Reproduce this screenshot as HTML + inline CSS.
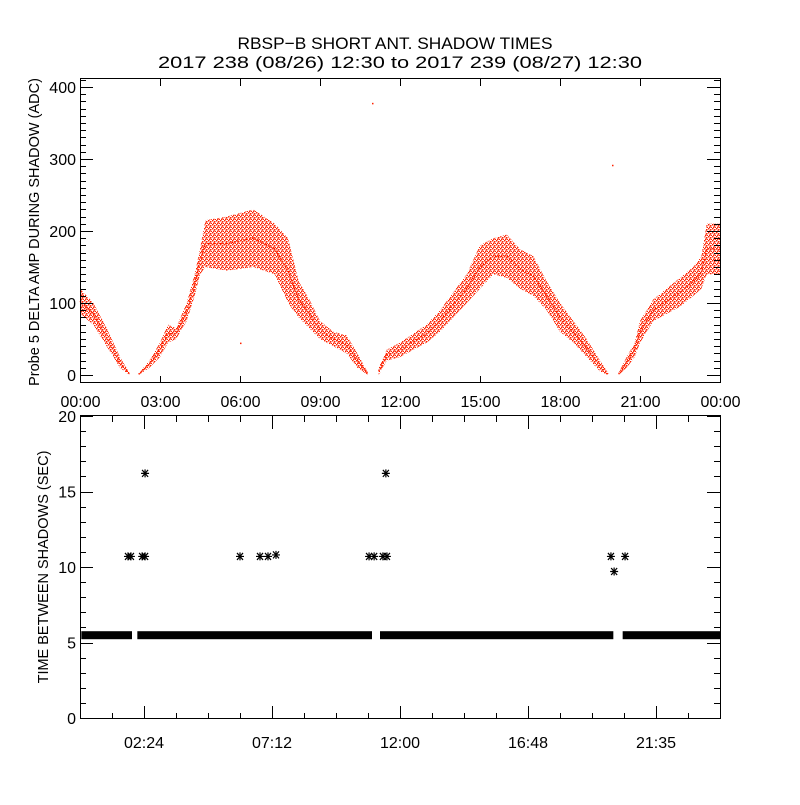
<!DOCTYPE html>
<html><head><meta charset="utf-8"><style>
html,body{margin:0;padding:0;background:#fff;}
svg text{font-family:"Liberation Sans",sans-serif;fill:#000;}
</style></head><body>
<svg id="chart" width="800" height="800" viewBox="0 0 800 800" xmlns="http://www.w3.org/2000/svg">
<defs>
<pattern id="dots" width="4" height="4" patternUnits="userSpaceOnUse">
<rect x="0" y="0" width="1.5" height="1.5" fill="#ff2200"/>
<rect x="2" y="1" width="1.5" height="1.5" fill="#ff2200"/>
<rect x="1" y="2.5" width="1.5" height="1.5" fill="#ff2200"/>
<rect x="3" y="3" width="1" height="1" fill="#ff2200"/>
</pattern>
</defs>
<rect width="800" height="800" fill="#fff"/>
<text x="395" y="49" font-size="17" text-anchor="middle" textLength="315" lengthAdjust="spacingAndGlyphs">RBSP−B SHORT ANT. SHADOW TIMES</text>
<text x="400" y="68" font-size="17" text-anchor="middle" textLength="484" lengthAdjust="spacingAndGlyphs">2017 238 (08/26) 12:30 to 2017 239 (08/27) 12:30</text>
<g id="topPanel"></g>
<g id="botPanel"></g>
</svg>
<script>
// ---- top panel data (hours, lower/upper envelope of ADC values) ----
const seg1Hours=[0,0.5,1.0,1.5,1.85];
const seg1Lo=[85,70,40,10,0];
const seg1Hi=[120,100,65,25,3];
const seg2Hours=[2.2,2.6,3.0,3.3,3.6,4.0,4.3,4.5,4.7,5.5,6.5,7.3,7.8,8.2,8.6,9.0,9.5,10.0,10.4,10.8];
const seg2Lo=[0,10,25,45,50,75,110,140,150,145,150,140,100,80,65,50,40,30,10,0];
const seg2Hi=[2,20,45,70,65,100,140,175,215,220,230,210,190,130,105,75,60,55,30,3];
const seg3Hours=[11.2,11.5,12.0,13.0,13.5,14.0,14.5,15.0,15.5,16.0,16.5,17.0,17.5,18.0,18.5,19.0,19.5,19.8];
const seg3Lo=[0,20,25,45,60,80,100,120,140,135,120,110,90,60,45,25,5,0];
const seg3Hi=[10,35,45,70,90,115,140,180,190,195,175,165,130,100,75,50,20,3];
const seg4Hours=[20.2,20.5,20.8,21.0,21.5,22.0,22.5,23.0,23.3,23.5,24.0];
const seg4Lo=[0,10,25,45,75,85,95,110,120,140,140];
const seg4Hi=[3,25,45,75,105,120,135,150,165,210,210];
const outlierHours=[10.95,19.95,1.4,6.0];
const outlierVals=[378,292,20,45];
const topYTicks=[0,100,200,300,400];
const topXLabels=["00:00","03:00","06:00","09:00","12:00","15:00","18:00","21:00","00:00"];
// ---- bottom panel data ----
const baseStartHours=[0.05,2.15,11.25,20.35];
const baseEndHours=[1.95,10.95,20.0,24.0];
const baseValue=5.45;
const starHours=[1.8,1.91,2.33,2.44,2.44,6.0,6.75,7.05,7.35,10.84,11.03,11.36,11.51,11.47,19.91,20.03,20.44];
const starVals=[10.7,10.7,10.7,10.7,16.2,10.7,10.7,10.7,10.8,10.7,10.7,10.7,10.7,16.2,10.7,9.7,10.7];
const botYTicks=[0,5,10,15,20];
const botXLabels=["02:24","07:12","12:00","16:48","21:35"];

const NS="http://www.w3.org/2000/svg";
function mk(parent,tag,attrs){const e=document.createElementNS(NS,tag);for(const k in attrs)e.setAttribute(k,attrs[k]);parent.appendChild(e);return e;}
const L=80,R=720;
const xT=h=>L+h*(R-L)/24;
const yT=v=>375-v*0.72;
const yB=v=>718-v*15.1;
const topG=document.getElementById('topPanel'), botG=document.getElementById('botPanel');

// top bands
[[seg1Hours,seg1Lo,seg1Hi],[seg2Hours,seg2Lo,seg2Hi],[seg3Hours,seg3Lo,seg3Hi],[seg4Hours,seg4Lo,seg4Hi]].forEach((s,i)=>{
  const [hs,lo,hi]=s;
  let pts=hs.map((h,j)=>xT(h)+','+yT(hi[j]));
  for(let j=hs.length-1;j>=0;j--)pts.push(xT(hs[j])+','+yT(lo[j]));
  const p=mk(topG,'polygon',{points:pts.join(' '),fill:'url(#dots)'});
  
  
  let pl=hs.map((h,j)=>xT(h)+','+yT((lo[j]+hi[j])/2)).join(' ');
  const c=mk(topG,'polyline',{points:pl,fill:'none',stroke:'#ff2200','stroke-width':1.5,'stroke-dasharray':'1.5 1.5'});
  
  
});
outlierHours.forEach((h,i)=>{
  const r=mk(topG,'rect',{x:xT(h),y:yT(outlierVals[i]),width:1.5,height:1.5,fill:'#ff2200'});
  
  
});
// top axes
const tb=mk(topG,'rect',{x:80.5,y:78.5,width:640,height:304,fill:'none',stroke:'#000'});


for(let v=-10;v<=410;v+=10){
  const y=Math.round(yT(v))+0.5;const len=(v%100===0)?13:6;
  mk(topG,'line',{x1:80,x2:80+len,y1:y,y2:y,stroke:'#000'});
  mk(topG,'line',{x1:720-len,x2:720,y1:y,y2:y,stroke:'#000'});
}
topYTicks.forEach(v=>{
  const t=mk(topG,'text',{x:76,y:yT(v)+6,'font-size':16,'text-anchor':'end'});t.textContent=v;
  
  
});
topXLabels.forEach((s,i)=>{
  const x=Math.round(xT(i*3))+0.5;
  mk(topG,'line',{x1:x,x2:x,y1:383,y2:376,stroke:'#000'});
  mk(topG,'line',{x1:x,x2:x,y1:79,y2:86,stroke:'#000'});
  const t=mk(topG,'text',{x:x,y:407,'font-size':16,'text-anchor':'middle'});t.textContent=s;
  
  
});
const yt=mk(topG,'text',{x:0,y:0,'font-size':14.5,'text-anchor':'middle',transform:'translate(39,232) rotate(-90)'});
yt.textContent='Probe 5 DELTA AMP DURING SHADOW (ADC)';



// bottom baseline band
baseStartHours.forEach((h,i)=>{
  const x1=xT(h),x2=xT(baseEndHours[i]);
  const r=mk(botG,'rect',{x:x1,y:yB(baseValue)-4.5,width:x2-x1,height:8,fill:'#000'});
  
  
});
starHours.forEach((h,i)=>{
  const cx=xT(h), cy=yB(starVals[i]);
  const d='M'+(cx-4)+' '+cy+'H'+(cx+4)+'M'+(cx-3)+' '+(cy-3.5)+'L'+(cx+3)+' '+(cy+3.5)+'M'+(cx+3)+' '+(cy-3.5)+'L'+(cx-3)+' '+(cy+3.5)+'M'+cx+' '+(cy-4)+'V'+(cy+4);
  const p=mk(botG,'path',{d:d,stroke:'#000','stroke-width':1.2,fill:'none'});
  
  
});
const bb=mk(botG,'rect',{x:80.5,y:415.5,width:640,height:303,fill:'none',stroke:'#000'});


for(let v=0;v<=20;v++){
  const y=Math.round(yB(v))+0.5;const len=(v%5===0)?13:6;
  mk(botG,'line',{x1:80,x2:80+len,y1:y,y2:y,stroke:'#000'});
  mk(botG,'line',{x1:720-len,x2:720,y1:y,y2:y,stroke:'#000'});
}
botYTicks.forEach(v=>{
  const t=mk(botG,'text',{x:76,y:yB(v)+6,'font-size':16,'text-anchor':'end'});t.textContent=v;
  
  
});
for(let k=1;k<20;k++){
  const x=Math.round(xT(k*1.2))+0.5;const len=(k%4===2)?13:6;
  mk(botG,'line',{x1:x,x2:x,y1:719,y2:719-len,stroke:'#000'});
  mk(botG,'line',{x1:x,x2:x,y1:416,y2:416+len,stroke:'#000'});
}
botXLabels.forEach((s,i)=>{
  const x=xT(2.4+i*4.8);
  const t=mk(botG,'text',{x:x,y:748,'font-size':16,'text-anchor':'middle'});t.textContent=s;
  
  
});
const by=mk(botG,'text',{x:0,y:0,'font-size':14.5,'text-anchor':'middle',transform:'translate(48,567) rotate(-90)'});
by.textContent='TIME BETWEEN SHADOWS (SEC)';


</script>
</body></html>
